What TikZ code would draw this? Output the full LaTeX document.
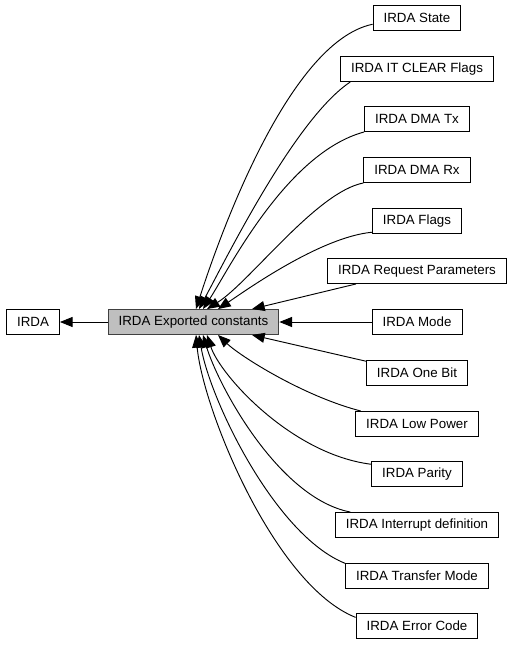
\documentclass[tikz,border=0pt]{standalone}
\usepackage{fontspec}
\setmainfont{Liberation Sans}
\usetikzlibrary{arrows.meta,calc}
\definecolor{ecfill}{RGB}{191,191,191}
\definecolor{ecline}{RGB}{64,64,64}

\begin{document}
\begin{tikzpicture}[x=0.75pt, y=-0.75pt,
  modbox/.style={draw=black, fill=white, line width=0.7pt, inner xsep=7.9pt,
    inner ysep=0pt, minimum height=18.75pt, font=\fontsize{10}{12}\selectfont},
  dep/.style={-{Triangle[length=9.5pt,width=7.5pt]}, line width=0.7pt}]

\useasboundingbox (0,0) rectangle (512,645);

% ================= LEFT: GROUPS =================
\node[modbox] (irda) at (33,322) {IRDA};
\node[modbox, fill=ecfill, draw=ecline] (ec) at (193.5,322) {IRDA Exported constants};

% ================= RIGHT: SUBGROUPS =================
\node[modbox] (st)  at (417,18)  {IRDA State};
\node[modbox] (itc) at (417,69)  {IRDA IT CLEAR Flags};
\node[modbox] (tx)  at (417,119) {IRDA DMA Tx};
\node[modbox] (rx)  at (417,170) {IRDA DMA Rx};
\node[modbox] (fl)  at (417,221) {IRDA Flags};
\node[modbox] (rp)  at (417,271) {IRDA Request Parameters};
\node[modbox] (md)  at (417,322) {IRDA Mode};
\node[modbox] (ob)  at (417,373) {IRDA One Bit};
\node[modbox] (lp)  at (417,424) {IRDA Low Power};
\node[modbox] (pa)  at (417,474) {IRDA Parity};
\node[modbox] (itd) at (417,525) {IRDA Interrupt definition};
\node[modbox] (tm)  at (417,576) {IRDA Transfer Mode};
\node[modbox] (erc) at (417,626) {IRDA Error Code};

% --- straight links ---
\draw[dep] (ec) -- (irda);
\draw[dep] (md) -- (ec);
\draw[dep] (rp.192) -- ($(ec.north)+(58.5,0)$);
\draw[dep] (ob.167) -- ($(ec.south)+(58.5,0)$);

% --- upper curves ---
\draw[dep] (st.188) .. controls +(-87,18) and +(19,-59) .. ($(ec.north)+(2.5,0)$);
\draw[dep] (itc.191) .. controls +(-54,36) and +(31,-58) .. ($(ec.north)+(5.5,0)$);
\draw[dep] (tx.south west) .. controls +(-78,21) and +(25,-38) .. ($(ec.north)+(9.5,0)$);
\draw[dep] (rx.south west) .. controls +(-47,9) and +(43,-27) .. ($(ec.north)+(13.5,0)$);
\draw[dep] (fl.194) .. controls +(-52,5) and +(27,-18) .. ($(ec.north)+(24.5,0)$);

% --- lower curves ---
\draw[dep] (lp.167) .. controls +(-58,-15) and +(22,21) .. ($(ec.south)+(24.5,0)$);
\draw[dep] (pa.168) .. controls +(-80,-10) and +(13,40) .. ($(ec.south)+(13.5,0)$);
\draw[dep] (itd.169) .. controls +(-72,-14) and +(15,50) .. ($(ec.south)+(9.5,0)$);
\draw[dep] (tm.170) .. controls +(-70,-28) and +(11,65) .. ($(ec.south)+(5.5,0)$);
\draw[dep] (erc.172) .. controls +(-81,-32) and +(7,75) .. ($(ec.south)+(2.5,0)$);

\end{tikzpicture}
\end{document}
